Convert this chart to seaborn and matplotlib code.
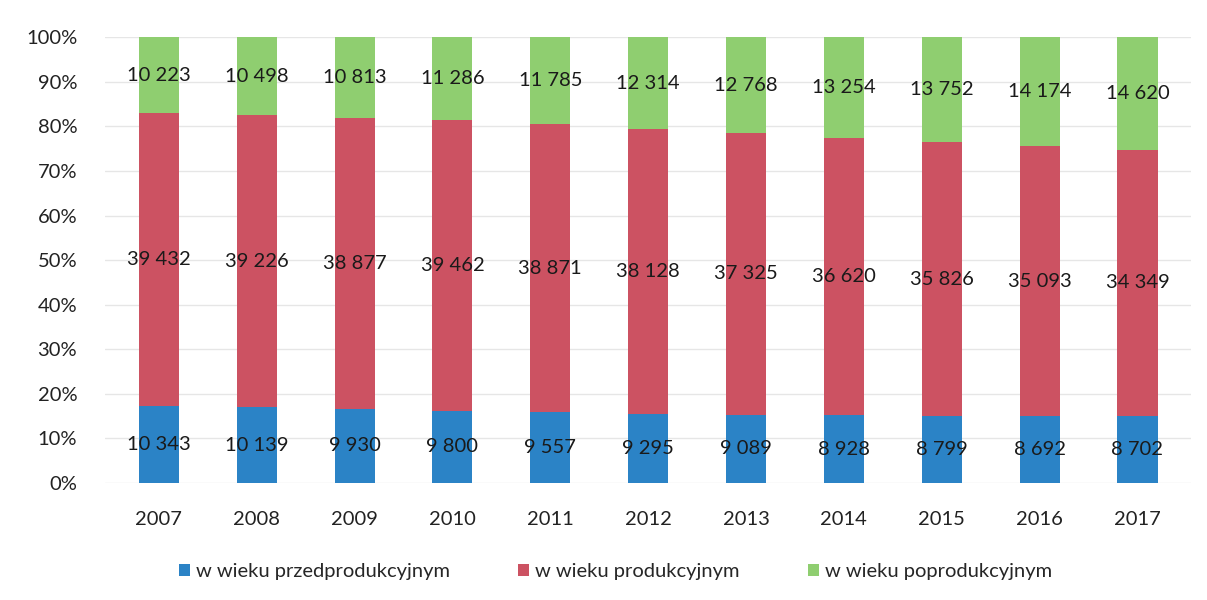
import numpy as np
import pandas as pd
import matplotlib
matplotlib.use("Agg")
import matplotlib.pyplot as plt
import seaborn as sns
from matplotlib.patches import Patch

# data
years = ["2007", "2008", "2009", "2010", "2011", "2012", "2013", "2014", "2015", "2016", "2017"]
pre_prod = [10343, 10139, 9930, 9800, 9557, 9295, 9089, 8928, 8799, 8692, 8702]
prod = [39432, 39226, 38877, 39462, 38871, 38128, 37325, 36620, 35826, 35093, 34349]
post_prod = [10223, 10498, 10813, 11286, 11785, 12314, 12768, 13254, 13752, 14174, 14620]

series_names = ["w wieku przedprodukcyjnym", "w wieku produkcyjnym", "w wieku poprodukcyjnym"]
colors = ["#2b83c6", "#cc5262", "#8fce70"]

sns.set_style("white")
plt.rcParams["font.family"] = ["Lato", "DejaVu Sans"]

df = pd.DataFrame({"year": years, "pre": pre_prod, "prod": prod, "post": post_prod})
total = df[["pre", "prod", "post"]].sum(axis=1)

fig = plt.figure(figsize=(12.07, 6.0), dpi=100)
ax = fig.add_axes([0.087, 0.195, 0.9, 0.743])

bottom = np.zeros(len(df))
for col, name, c in zip(["pre", "prod", "post"], series_names, colors):
    share = (df[col] / total * 100).values
    sns.barplot(x=df["year"], y=share, bottom=bottom, color=c, width=0.41,
                ax=ax, saturation=1, linewidth=0, zorder=3)
    for i, (v, s) in enumerate(zip(df[col], share)):
        lab = f"{v:,}".replace(",", " ")
        ax.text(i, bottom[i] + s / 2, lab, ha="center", va="center",
                fontsize=14.5, color="#1a1a1a", zorder=4)
    bottom = bottom + share

ax.set_ylim(0, 100)
ax.set_xlim(-0.55, len(years) - 0.45)
ax.set_yticks(np.arange(0, 101, 10))
ax.set_yticklabels([f"{t}%" for t in range(0, 101, 10)], fontsize=14.5, color="#222222")
ax.tick_params(axis="x", labelsize=14.5, colors="#222222", pad=20, length=0)
ax.tick_params(axis="y", length=0, pad=20)
ax.set_xlabel("")
ax.set_ylabel("")
ax.yaxis.grid(True, color="#e6e6e6", linewidth=1, zorder=0)
ax.set_axisbelow(True)
sns.despine(ax=ax, left=True, bottom=True)

handles = [Patch(facecolor=c, edgecolor="none") for c in colors]
fig.legend(handles, series_names, loc="center", bbox_to_anchor=(0.51, 0.048),
           ncol=3, frameon=False, fontsize=14.5, handlelength=0.55, handleheight=0.55,
           handletextpad=0.3, columnspacing=3.4)

fig.savefig("out.png", dpi=100)
